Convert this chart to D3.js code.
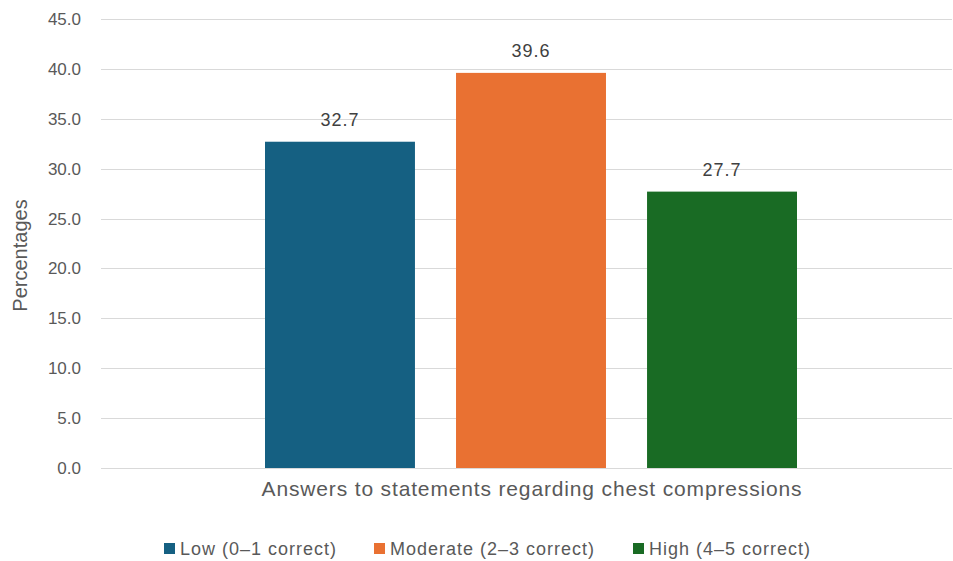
<!DOCTYPE html>
<html>
<head>
<meta charset="utf-8">
<script src="https://cdn.jsdelivr.net/npm/d3@7/dist/d3.min.js"></script>
<style>
  html, body { margin: 0; padding: 0; background: #fff; }
  svg { display: block; font-family: "Liberation Sans", Arial, sans-serif; }
</style>
</head>
<body>
<svg id="chart" width="953" height="561"></svg>
<script>
// Share of respondents by number of correct answers
const series = ["Low (0–1 correct)", "Moderate (2–3 correct)", "High (4–5 correct)"];
const values = [32.7, 39.6, 27.7];
const colors = ["#156082", "#E97132", "#196B24"];
const yTicks = [0, 5, 10, 15, 20, 25, 30, 35, 40, 45];
const categoryLabel = "Answers to statements regarding chest compressions";
const yTitle = "Percentages";

const svg = d3.select("#chart");
const plot = { left: 101, right: 952, top: 19, bottom: 468 };

const y = d3.scaleLinear().domain([0, 45]).range([plot.bottom, plot.top]);
const x = d3.scaleBand().domain(series).range([265, 797]).paddingInner(0.215).paddingOuter(0);

// gridlines
svg.append("g").selectAll("line").data(yTicks).join("line")
  .attr("x1", plot.left).attr("x2", plot.right)
  .attr("y1", d => Math.round(y(d)) + 0.5).attr("y2", d => Math.round(y(d)) + 0.5)
  .attr("stroke", "#D9D9D9").attr("stroke-width", 1);

// y tick labels
const yAxis = d3.axisLeft(y).tickValues(yTicks).tickFormat(d3.format(".1f")).tickSize(0).tickPadding(20);
const ya = svg.append("g").attr("transform", `translate(${plot.left},0)`).call(yAxis);
ya.select(".domain").remove();
ya.selectAll("text").attr("fill", "#595959").style("font-size", "17px")
  .style("font-family", "'Liberation Sans', Arial, sans-serif");

// bars
svg.append("g").selectAll("rect").data(series).join("rect")
  .attr("x", d => x(d)).attr("width", x.bandwidth())
  .attr("y", (d, i) => y(values[i])).attr("height", (d, i) => y(0) - y(values[i]))
  .attr("fill", (d, i) => colors[i]);

// value labels
svg.append("g").selectAll("text").data(series).join("text")
  .attr("x", d => x(d) + x.bandwidth() / 2)
  .attr("y", (d, i) => y(values[i]) - 16)
  .attr("text-anchor", "middle").attr("fill", "#404040").style("font-size", "18px")
  .style("letter-spacing", "1px")
  .text((d, i) => d3.format(".1f")(values[i]));

// axis titles
svg.append("text").attr("x", 532).attr("y", 496).attr("text-anchor", "middle")
  .attr("fill", "#595959").style("font-size", "21px").style("letter-spacing", "0.85px")
  .text(categoryLabel);

svg.append("text").attr("transform", `translate(27,${(plot.top + plot.bottom) / 2 + 12}) rotate(-90)`)
  .attr("text-anchor", "middle").attr("fill", "#595959").style("font-size", "20px").text(yTitle);

// legend
const legendX = [164, 374, 633];
const lg = svg.append("g").selectAll("g").data(series).join("g")
  .attr("transform", (d, i) => `translate(${legendX[i]},543)`);
lg.append("rect").attr("width", 11).attr("height", 11).attr("fill", (d, i) => colors[i]);
lg.append("text").attr("x", 16).attr("y", 12).attr("fill", "#595959").style("font-size", "18px")
  .style("letter-spacing", "1px")
  .text(d => d);
</script>
</body>
</html>
